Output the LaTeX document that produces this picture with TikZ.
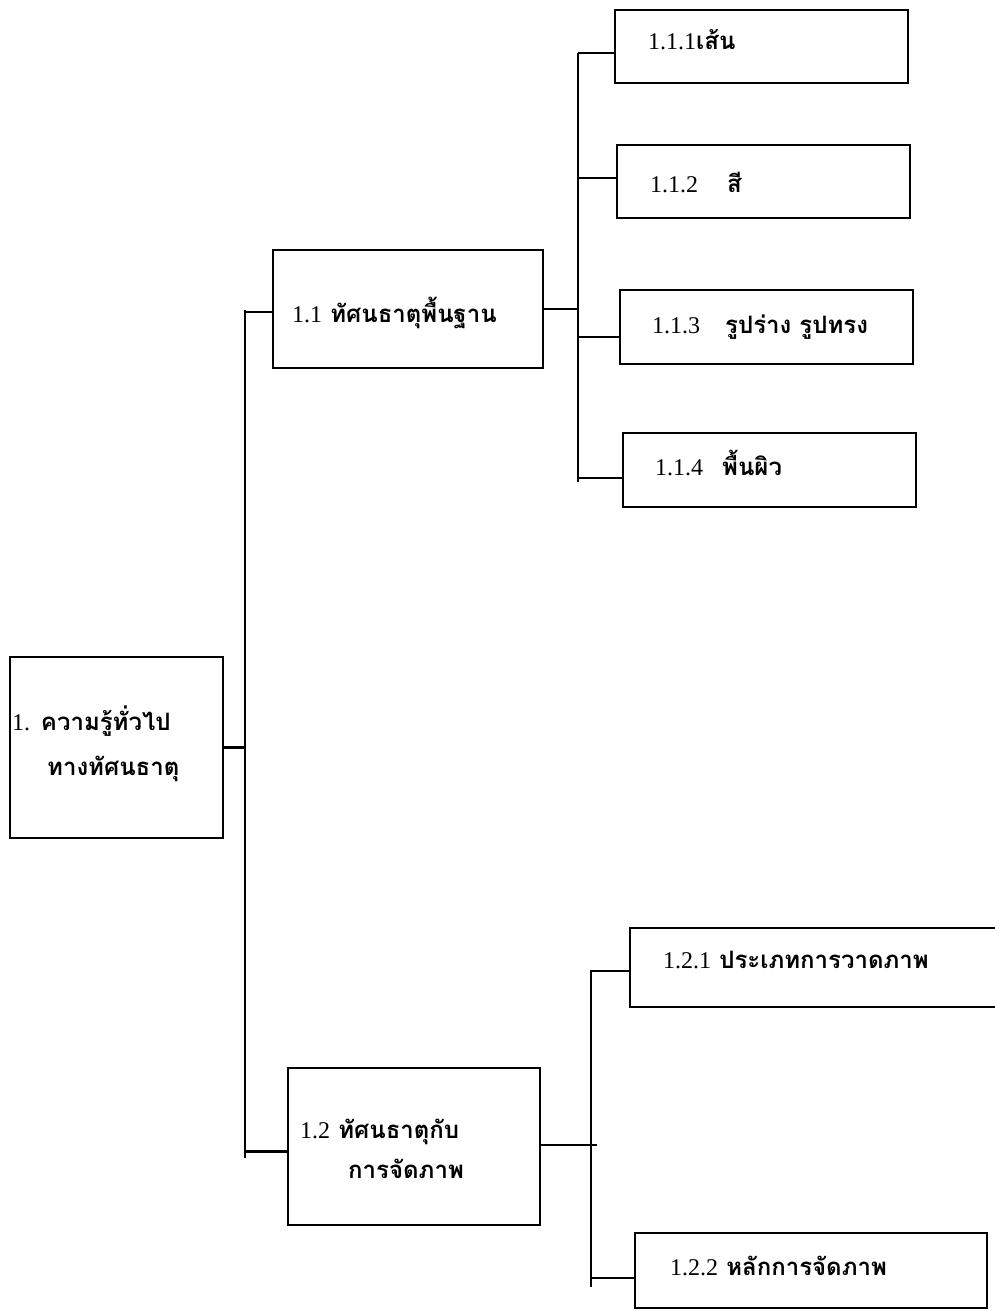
\documentclass[tikz,border=0pt]{standalone}
\usepackage{fontspec}
\newfontfamily\thaifont[Script=Thai]{Loma}
\newfontfamily\numfont{Liberation Serif}
\tikzset{
  box/.style={draw, line width=2.2pt, rectangle, inner sep=0pt},
  lbl/.style={anchor=base west, inner sep=0pt, font=\fontsize{24}{28}\selectfont\bfseries\thaifont},
  conn/.style={line width=2.2pt},
}
\newcommand{\nm}[1]{{\fontsize{24}{28}\selectfont\numfont\mdseries #1}}
\begin{document}
\begin{tikzpicture}[x=1pt,y=-1pt]
\clip (0,0) rectangle (995,1311);
\useasboundingbox (0,0) rectangle (995,1311);
% boxes
\node[box, minimum width=213, minimum height=181] (root) at (116.5,747.5) {};
\node[box, minimum width=270, minimum height=118] (b11) at (408,309) {};
\node[box, minimum width=293, minimum height=73] (b111) at (761.5,46.5) {};
\node[box, minimum width=293, minimum height=73] (b112) at (763.5,181.5) {};
\node[box, minimum width=293, minimum height=74] (b113) at (766.5,327) {};
\node[box, minimum width=293, minimum height=74] (b114) at (769.5,470) {};
\node[box, minimum width=252, minimum height=157] (b12) at (414,1146.5) {};
\node[box, minimum width=380, minimum height=79] (b121) at (820,967.5) {};
\node[box, minimum width=352, minimum height=75] (b122) at (811,1270.5) {};
% texts
\node[lbl] (t1a) at (12,730) {\nm{1.} ความรู้ทั่วไป};
\node[lbl] (t1b) at (47,775) {ทางทัศนธาตุ};
\node[lbl] (t11) at (292,322) {\nm{1.1} ทัศนธาตุพื้นฐาน};
\node[lbl] (t111) at (648,50) {\nm{1.1.1}เส้น};
\node[lbl] (t112n) at (650,192) {\nm{1.1.2}};
\node[lbl] (t112) at (727,192) {สี};
\node[lbl] (t113n) at (652,333) {\nm{1.1.3}};
\node[lbl] (t113) at (725,333) {รูปร่าง รูปทรง};
\node[lbl] (t114n) at (655,475) {\nm{1.1.4}};
\node[lbl] (t114) at (722,475) {พื้นผิว};
\node[lbl] (t12a) at (300,1138) {\nm{1.2} ทัศนธาตุกับ};
\node[lbl] (t12b) at (348,1178) {การจัดภาพ};
\node[lbl] (t121) at (663,968) {\nm{1.2.1} ประเภทการวาดภาพ};
\node[lbl] (t122) at (670,1275) {\nm{1.2.2} หลักการจัดภาพ};
% bus coordinates
\coordinate (bus1top) at (245,310);
\coordinate (bus1bot) at (245,1158);
\coordinate (bus2top) at (578,53);
\coordinate (bus2bot) at (578,482);
\coordinate (bus3top) at (591,970);
\coordinate (bus3bot) at (591,1287);
\coordinate (bus3end) at (597,1145);
% connectors
\draw[conn] (bus1top) -- (bus1bot);
\draw[conn] (root.east) -- (root.east -| bus1top);
\draw[conn] ([yshift=-3]b11.west) -- ([yshift=-3]b11.west -| bus1top);
\draw[conn] ([yshift=-5]b12.west) -- ([yshift=-5]b12.west -| bus1top);
\draw[conn] (bus2top) -- (bus2bot);
\draw[conn] (b11.east) -- (b11.east -| bus2top);
\draw[conn] ([yshift=-6.5]b111.west) -- ([yshift=-6.5]b111.west -| bus2top);
\draw[conn] ([yshift=3.5]b112.west) -- ([yshift=3.5]b112.west -| bus2top);
\draw[conn] ([yshift=-10]b113.west) -- ([yshift=-10]b113.west -| bus2top);
\draw[conn] ([yshift=-8]b114.west) -- ([yshift=-8]b114.west -| bus2top);
\draw[conn] (bus3top) -- (bus3bot);
\draw[conn] ([yshift=1.5]b12.east) -- ([yshift=1.5]b12.east -| bus3end);
\draw[conn] ([yshift=-3.5]b121.west) -- ([yshift=-3.5]b121.west -| bus3top);
\draw[conn] ([yshift=-7.5]b122.west) -- ([yshift=-7.5]b122.west -| bus3top);
\end{tikzpicture}
\end{document}
